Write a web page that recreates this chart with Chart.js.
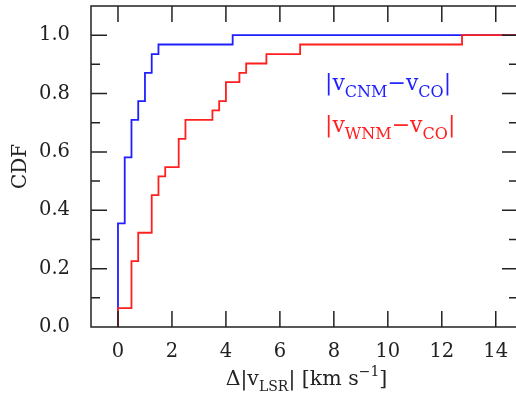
<!DOCTYPE html>
<html>
<head>
<meta charset="utf-8">
<script src="https://cdn.jsdelivr.net/npm/chart.js@4/dist/chart.umd.min.js"></script>
<style>
  html, body { margin: 0; padding: 0; background: #fff; }
  canvas { display: block; }
</style>
</head>
<body>
<canvas id="chart" width="516" height="397"></canvas>
<script>
// step CDFs: each point is where the curve jumps up to the given value
const cnmX = [0, 0, 0.25, 0.5, 0.75, 1.0, 1.25, 1.5, 4.25, 14.75]
const cnmY = [0, 0.355, 0.581, 0.710, 0.774, 0.871, 0.935, 0.968, 1.0, 1.0]
const wnmX = [0, 0, 0.5, 0.75, 1.25, 1.5, 1.75, 2.25, 2.5, 3.5, 3.75, 4.0, 4.5, 4.75, 5.5, 6.75, 12.75, 14.75]
const wnmY = [0, 0.065, 0.226, 0.323, 0.452, 0.516, 0.548, 0.645, 0.710, 0.742, 0.774, 0.839, 0.871, 0.903, 0.935, 0.968, 1.0, 1.0]

const xTicks = [0, 2, 4, 6, 8, 10, 12, 14]
const yTicks = [0, 0.1, 0.2, 0.3, 0.4, 0.5, 0.6, 0.7, 0.8, 0.9, 1.0]

const seriesNames = ['|v_{CNM}−v_{CO}|', '|v_{WNM}−v_{CO}|']
const xTitle = 'Δ|v_{LSR}| [km s^{−1}]'
const yTitle = 'CDF'

const SERIF = '"DejaVu Serif", serif'
const INK = '#222'
const BLUE = '#1f1fff'
const RED = '#ff1f1f'

function toPoints(xs, ys) {
    return xs.map((x, i) => ({ x: x, y: ys[i] }))
}

function isMajorY(v) {
    return Math.round(v * 10) % 2 === 0
}

// split 'a_{b}c^{d}' into [text, kind] pieces
function parseRich(str) {
    const parts = []
    const re = /([_^])\{([^}]*)\}/g
    let last = 0, m
    while ((m = re.exec(str))) {
        if (m.index > last) parts.push([str.slice(last, m.index), 0])
        parts.push([m[2], m[1] === '_' ? 1 : 2])
        last = re.lastIndex
    }
    if (last < str.length) parts.push([str.slice(last), 0])
    return parts
}

function drawRich(ctx, str, x, y, size, subSize, color, align) {
    const parts = parseRich(str)
    const fonts = [`${size}px ${SERIF}`, `${subSize}px ${SERIF}`, `${subSize}px ${SERIF}`]
    const shift = [0, size * 0.3, -size * 0.42]
    let total = 0
    for (const [t, k] of parts) { ctx.font = fonts[k]; total += ctx.measureText(t).width }
    let cx = align === 'center' ? x - total / 2 : x
    ctx.fillStyle = color
    ctx.textBaseline = 'alphabetic'
    ctx.textAlign = 'left'
    for (const [t, k] of parts) {
        ctx.font = fonts[k]
        ctx.fillText(t, cx, y + shift[k])
        cx += ctx.measureText(t).width
    }
}

const frameAndText = {
    id: 'frameAndText',
    afterDatasetsDraw(chart) {
        const { ctx, chartArea: a, scales: { x, y } } = chart
        ctx.save()
        ctx.strokeStyle = INK
        ctx.lineWidth = 1.5
        ctx.lineCap = 'butt'
        ctx.beginPath()
        ctx.moveTo(a.right + 4, a.top)
        ctx.lineTo(a.left, a.top)
        ctx.lineTo(a.left, a.bottom)
        ctx.lineTo(a.right + 4, a.bottom)
        for (const v of xTicks) {
            const px = x.getPixelForValue(v)
            ctx.moveTo(px, a.bottom); ctx.lineTo(px, a.bottom - 16)
            ctx.moveTo(px, a.top); ctx.lineTo(px, a.top + 16)
        }
        for (const v of yTicks) {
            const py = y.getPixelForValue(v)
            const len = isMajorY(v) ? 16 : 9
            ctx.moveTo(a.left, py); ctx.lineTo(a.left + len, py)
            ctx.moveTo(a.right, py); ctx.lineTo(a.right - len + 2, py)
        }
        ctx.stroke()

        // legend with subscripts
        drawRich(ctx, seriesNames[0], 325, 90, 22, 16, BLUE, 'left')
        drawRich(ctx, seriesNames[1], 325, 132, 22, 16, RED, 'left')

        // axis titles
        drawRich(ctx, xTitle, (a.left + a.right) / 2 + 3, 385, 20.5, 14, INK, 'center')
        ctx.translate(26, (a.top + a.bottom) / 2)
        ctx.rotate(-Math.PI / 2)
        ctx.font = `20px ${SERIF}`
        ctx.fillStyle = INK
        ctx.textAlign = 'center'
        ctx.textBaseline = 'alphabetic'
        ctx.fillText(yTitle, 0, 0)
        ctx.restore()
    }
}

new Chart(document.getElementById('chart'), {
    type: 'line',
    data: {
        datasets: [
            {
                label: 'CNM',
                data: toPoints(cnmX, cnmY),
                borderColor: BLUE,
                borderWidth: 1.8,
                stepped: true,
                pointRadius: 0,
                order: 1
            },
            {
                label: 'WNM',
                data: toPoints(wnmX, wnmY),
                borderColor: RED,
                borderWidth: 1.8,
                stepped: true,
                pointRadius: 0,
                order: 0
            }
        ]
    },
    options: {
        responsive: false,
        animation: false,
        events: [],
        layout: { padding: { top: 6, right: 0, left: 0, bottom: 0 } },
        plugins: {
            legend: { display: false },
            tooltip: { enabled: false }
        },
        scales: {
            x: {
                type: 'linear',
                min: -1,
                max: 14.75,
                grid: { display: false },
                border: { display: false },
                afterBuildTicks: s => { s.ticks = xTicks.map(v => ({ value: v })) },
                afterFit: s => { s.height = 70; s.paddingLeft = 0; s.paddingRight = 0 },
                ticks: {
                    padding: 5,
                    color: INK,
                    font: { family: SERIF, size: 19.5 },
                    maxRotation: 0,
                    callback: v => String(v)
                }
            },
            y: {
                min: 0,
                max: 1.1,
                grid: { display: false },
                border: { display: false },
                afterBuildTicks: s => { s.ticks = yTicks.map(v => ({ value: v })) },
                afterFit: s => { s.width = 91; s.paddingTop = 0; s.paddingBottom = 0 },
                ticks: {
                    padding: 13,
                    color: INK,
                    font: { family: SERIF, size: 19.5 },
                    callback: v => isMajorY(v) ? v.toFixed(1) : ''
                }
            }
        }
    },
    plugins: [frameAndText]
})
</script>
</body>
</html>
